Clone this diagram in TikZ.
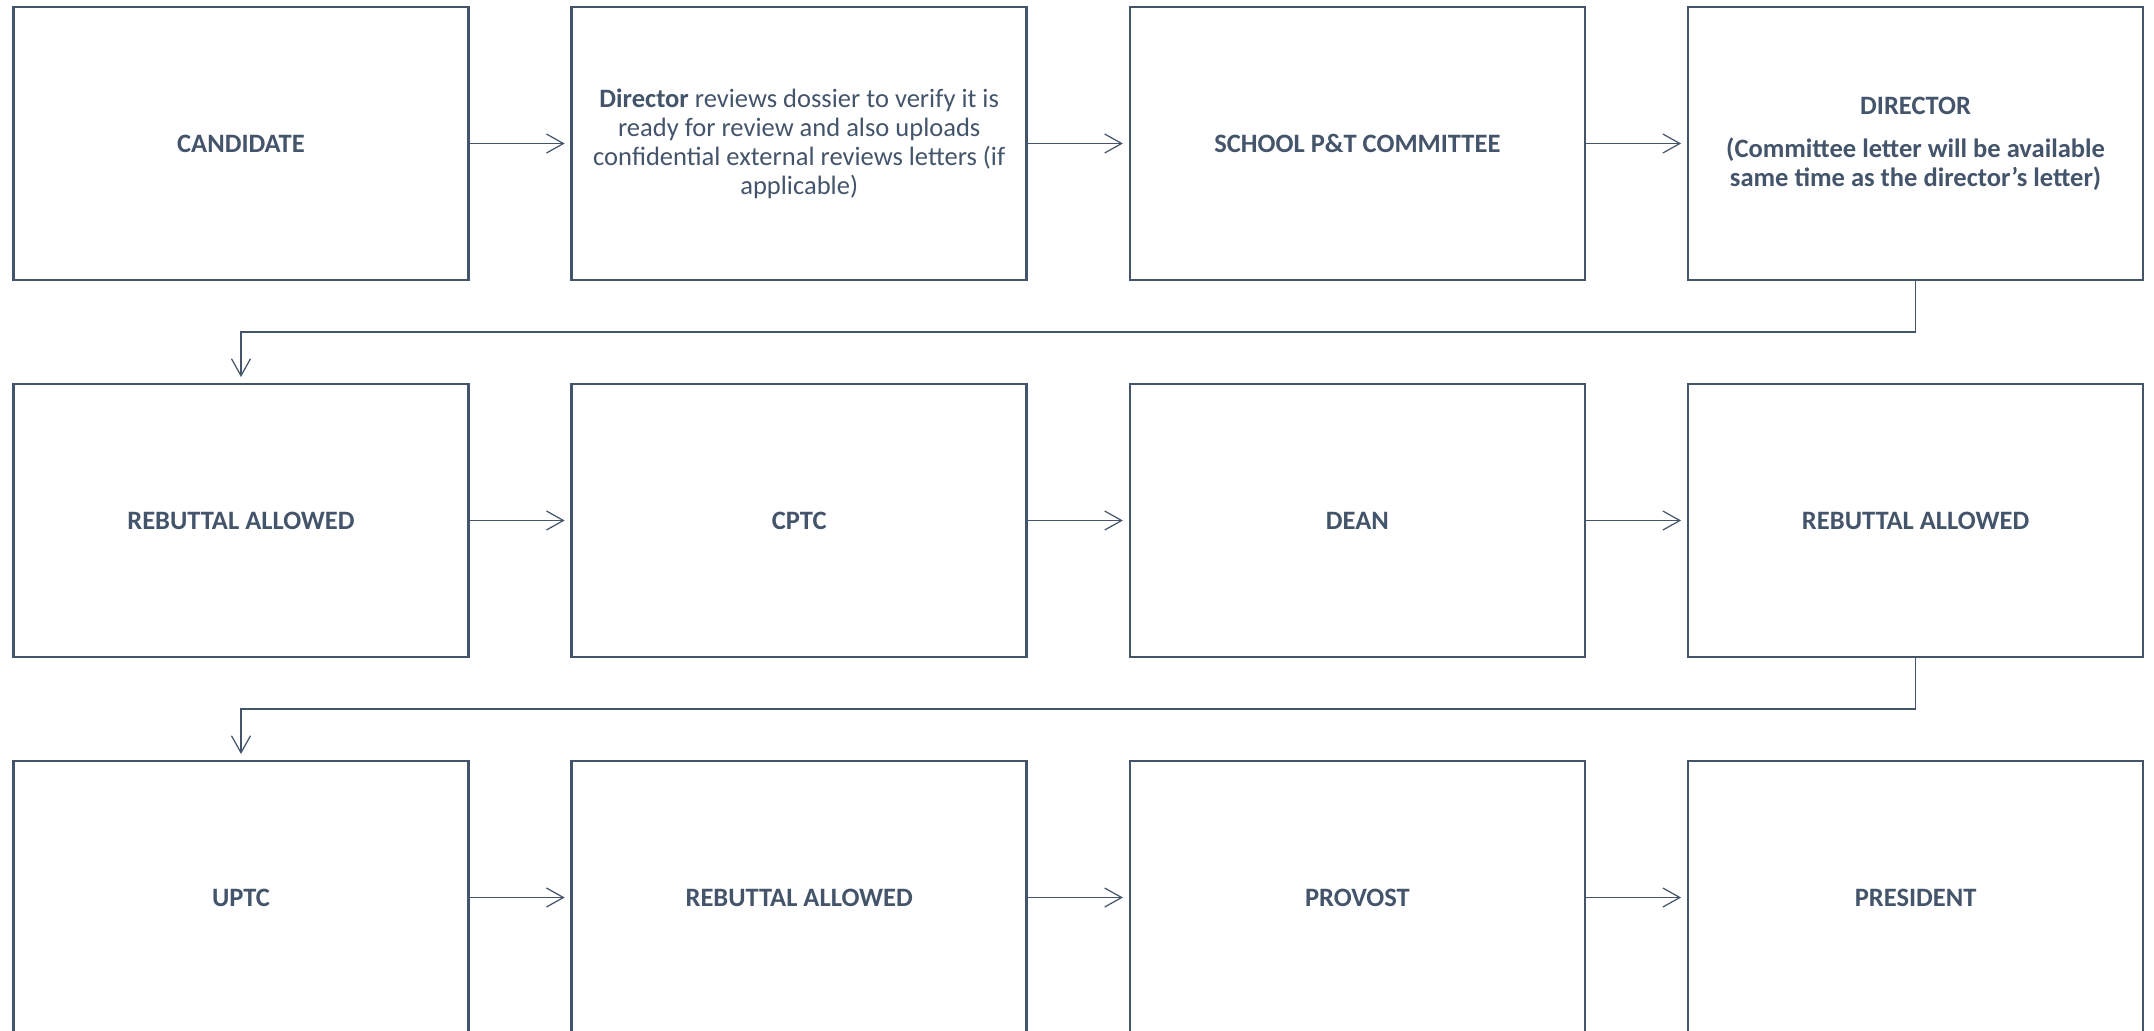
\documentclass[tikz,border=0pt]{standalone}
\usepackage{fontspec}
\setmainfont{Carlito}
\usepackage{tikz}
\usetikzlibrary{%
  arrows.meta,
  positioning
}
\definecolor{ardoise}{HTML}{44546A}
\tikzset{
  etape/.style={
    draw=ardoise,
    line width=1.5pt,
    text=ardoise,
    minimum width=9.10cm,
    minimum height=5.46cm,
    inner sep=0pt,
    outer sep=0pt,
    align=center,
    font=\fontsize{15.1}{16.5}\selectfont,
  },
  fleche/.style={
    draw=ardoise,
    line width=0.7pt,
    -{Straight Barb[length=0.34cm,width=0.38cm]},
    shorten >=0.14cm,
  },
}

\begin{document}
\begin{tikzpicture}[
  node distance=2.08cm and 2.064cm,
  thin,
]
  \useasboundingbox ( 0.0, 0.0) rectangle (43.08,-20.6) ;

  % premiere rangee
  \node [etape] (cand) at ( 4.82,-2.87) {\textbf{CANDIDATE}} ;
  \node [etape, right=of cand] (dirrev)
        {\textbf{Director} reviews dossier to verify it is\\
         ready for review and also uploads\\
         confidential external reviews letters (if\\
         applicable)} ;
  \node [etape, right=of dirrev] (school) {\textbf{SCHOOL P\&T COMMITTEE}} ;
  \node [etape, right=of school] (dir)
        {\textbf{DIRECTOR}\\[8pt]
         \textbf{(Committee letter will be available}\\
         \textbf{same time as the director’s letter)}} ;

  % deuxieme rangee
  \node [etape, below=of cand] (rebuta) {\textbf{REBUTTAL ALLOWED}} ;
  \node [etape, right=of rebuta] (cptc) {\textbf{CPTC}} ;
  \node [etape, right=of cptc] (dean) {\textbf{DEAN}} ;
  \node [etape, right=of dean] (rebutb) {\textbf{REBUTTAL ALLOWED}} ;

  % troisieme rangee
  \node [etape, below=of rebuta] (uptc) {\textbf{UPTC}} ;
  \node [etape, right=of uptc] (rebutc) {\textbf{REBUTTAL ALLOWED}} ;
  \node [etape, right=of rebutc] (provost) {\textbf{PROVOST}} ;
  \node [etape, right=of provost] (pres) {\textbf{PRESIDENT}} ;

  % fleches horizontales
  \foreach \a/\b in {cand/dirrev, dirrev/school, school/dir,
                     rebuta/cptc, cptc/dean, dean/rebutb,
                     uptc/rebutc, rebutc/provost, provost/pres} {
    \draw [fleche] (\a.east) -- (\b.west) ;
  }

  % retours a la ligne
  \draw [fleche] (dir.south) -- ++ ( 0.0,-1.04) -| (rebuta.north) ;
  \draw [fleche] (rebutb.south) -- ++ ( 0.0,-1.04) -| (uptc.north) ;

\end{tikzpicture}
\end{document}
